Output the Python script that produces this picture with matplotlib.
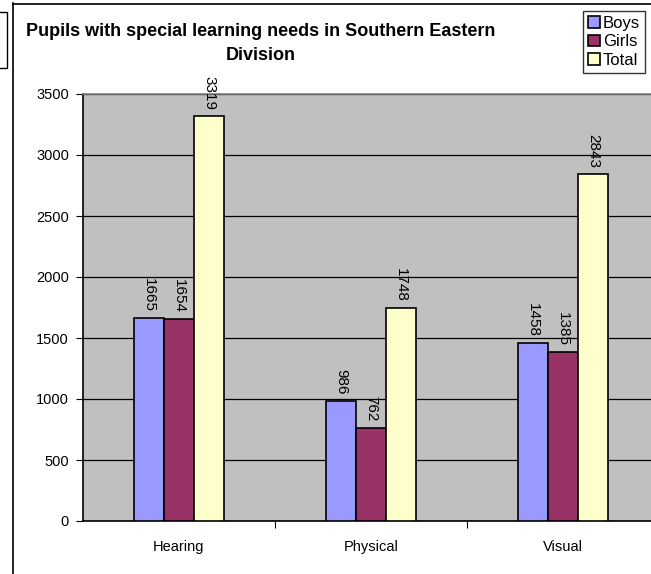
import matplotlib
matplotlib.use("Agg")
import matplotlib.pyplot as plt
from matplotlib.patches import Rectangle
from matplotlib.lines import Line2D
import numpy as np

plt.rcParams['font.family'] = ['Liberation Sans', 'DejaVu Sans']

categories = ["Hearing", "Physical", "Visual"]
boys = [1665, 986, 1458]
girls = [1654, 762, 1385]
total = [3319, 1748, 2843]
series_names = ["Boys", "Girls", "Total"]
colors = ["#9999FF", "#993366", "#FFFFCC"]
yticks = [0, 500, 1000, 1500, 2000, 2500, 3000, 3500]

W, H = 651, 574
fig = plt.figure(figsize=(W/100, H/100), dpi=100)
fig.patch.set_facecolor("white")

ax = fig.add_axes([83/W, (H-521)/H, (659-83)/W, (521-94)/H])
ax.set_facecolor("#C0C0C0")

x = np.arange(len(categories))
bw = 30/192
handles = []
for i, (vals, name, c) in enumerate(zip([boys, girls, total], series_names, colors)):
    pos = x + (i-1)*bw
    b = ax.bar(pos, vals, width=bw, color=c, edgecolor="black", linewidth=1.2, label=name, zorder=3)
    handles.append(b)
    for p, v in zip(pos, vals):
        ax.annotate(str(v), (p, v), xytext=(0, 4.5), textcoords="offset points",
                    rotation=270, ha="center", va="bottom", fontsize=11, zorder=4)

ax.set_xlim(-0.5, 2.5)
ax.set_ylim(0, 3500)
ax.set_yticks(yticks)
ax.set_yticklabels([str(t) for t in yticks], fontsize=10.5)
ax.yaxis.grid(True, color="black", linewidth=0.9, zorder=1)
ax.set_axisbelow(True)
ax.set_xticks([0.5, 1.5, 2.5])
ax.set_xticklabels([])
ax.set_xticks(x, minor=True)
ax.set_xticklabels(categories, minor=True, fontsize=10.5)
ax.tick_params(axis='x', which='minor', length=0, pad=14)
ax.tick_params(axis='x', which='major', length=5, direction='out', color='black')
ax.tick_params(axis='y', length=5, direction='out', color='black', pad=5)
for s in ["left", "bottom"]:
    ax.spines[s].set_color("black")
    ax.spines[s].set_linewidth(1.2)
ax.spines["top"].set_color("#808080")
ax.spines["top"].set_linewidth(1.2)
ax.spines["right"].set_visible(False)

fig.text(261/W, 1-32/H, "Pupils with special learning needs in Southern Eastern",
         ha="center", va="center", fontsize=13, fontweight="bold")
fig.text(261/W, 1-55/H, "Division", ha="center", va="center", fontsize=13, fontweight="bold")

leg = fig.legend(handles, series_names, loc="upper left", bbox_to_anchor=(583/W, 1-11/H),
                 fontsize=12, frameon=True, fancybox=False, edgecolor="black",
                 handlelength=0.7, handleheight=0.7, handletextpad=0.2,
                 borderpad=0.3, labelspacing=0.2, borderaxespad=0)
leg.get_frame().set_linewidth(1.0)

# chart area borders
fig.add_artist(Line2D([12.5/W, 12.5/W], [0, 1-3/H], color="black", linewidth=1.2))
fig.add_artist(Line2D([12.5/W, 1], [1-3.5/H, 1-3.5/H], color="black", linewidth=1.2))
fig.add_artist(Rectangle((-2/W, 1-68/H), 9/W, 56/H, fill=False, edgecolor="black", linewidth=1.0))

fig.savefig("out.png", dpi=100)
